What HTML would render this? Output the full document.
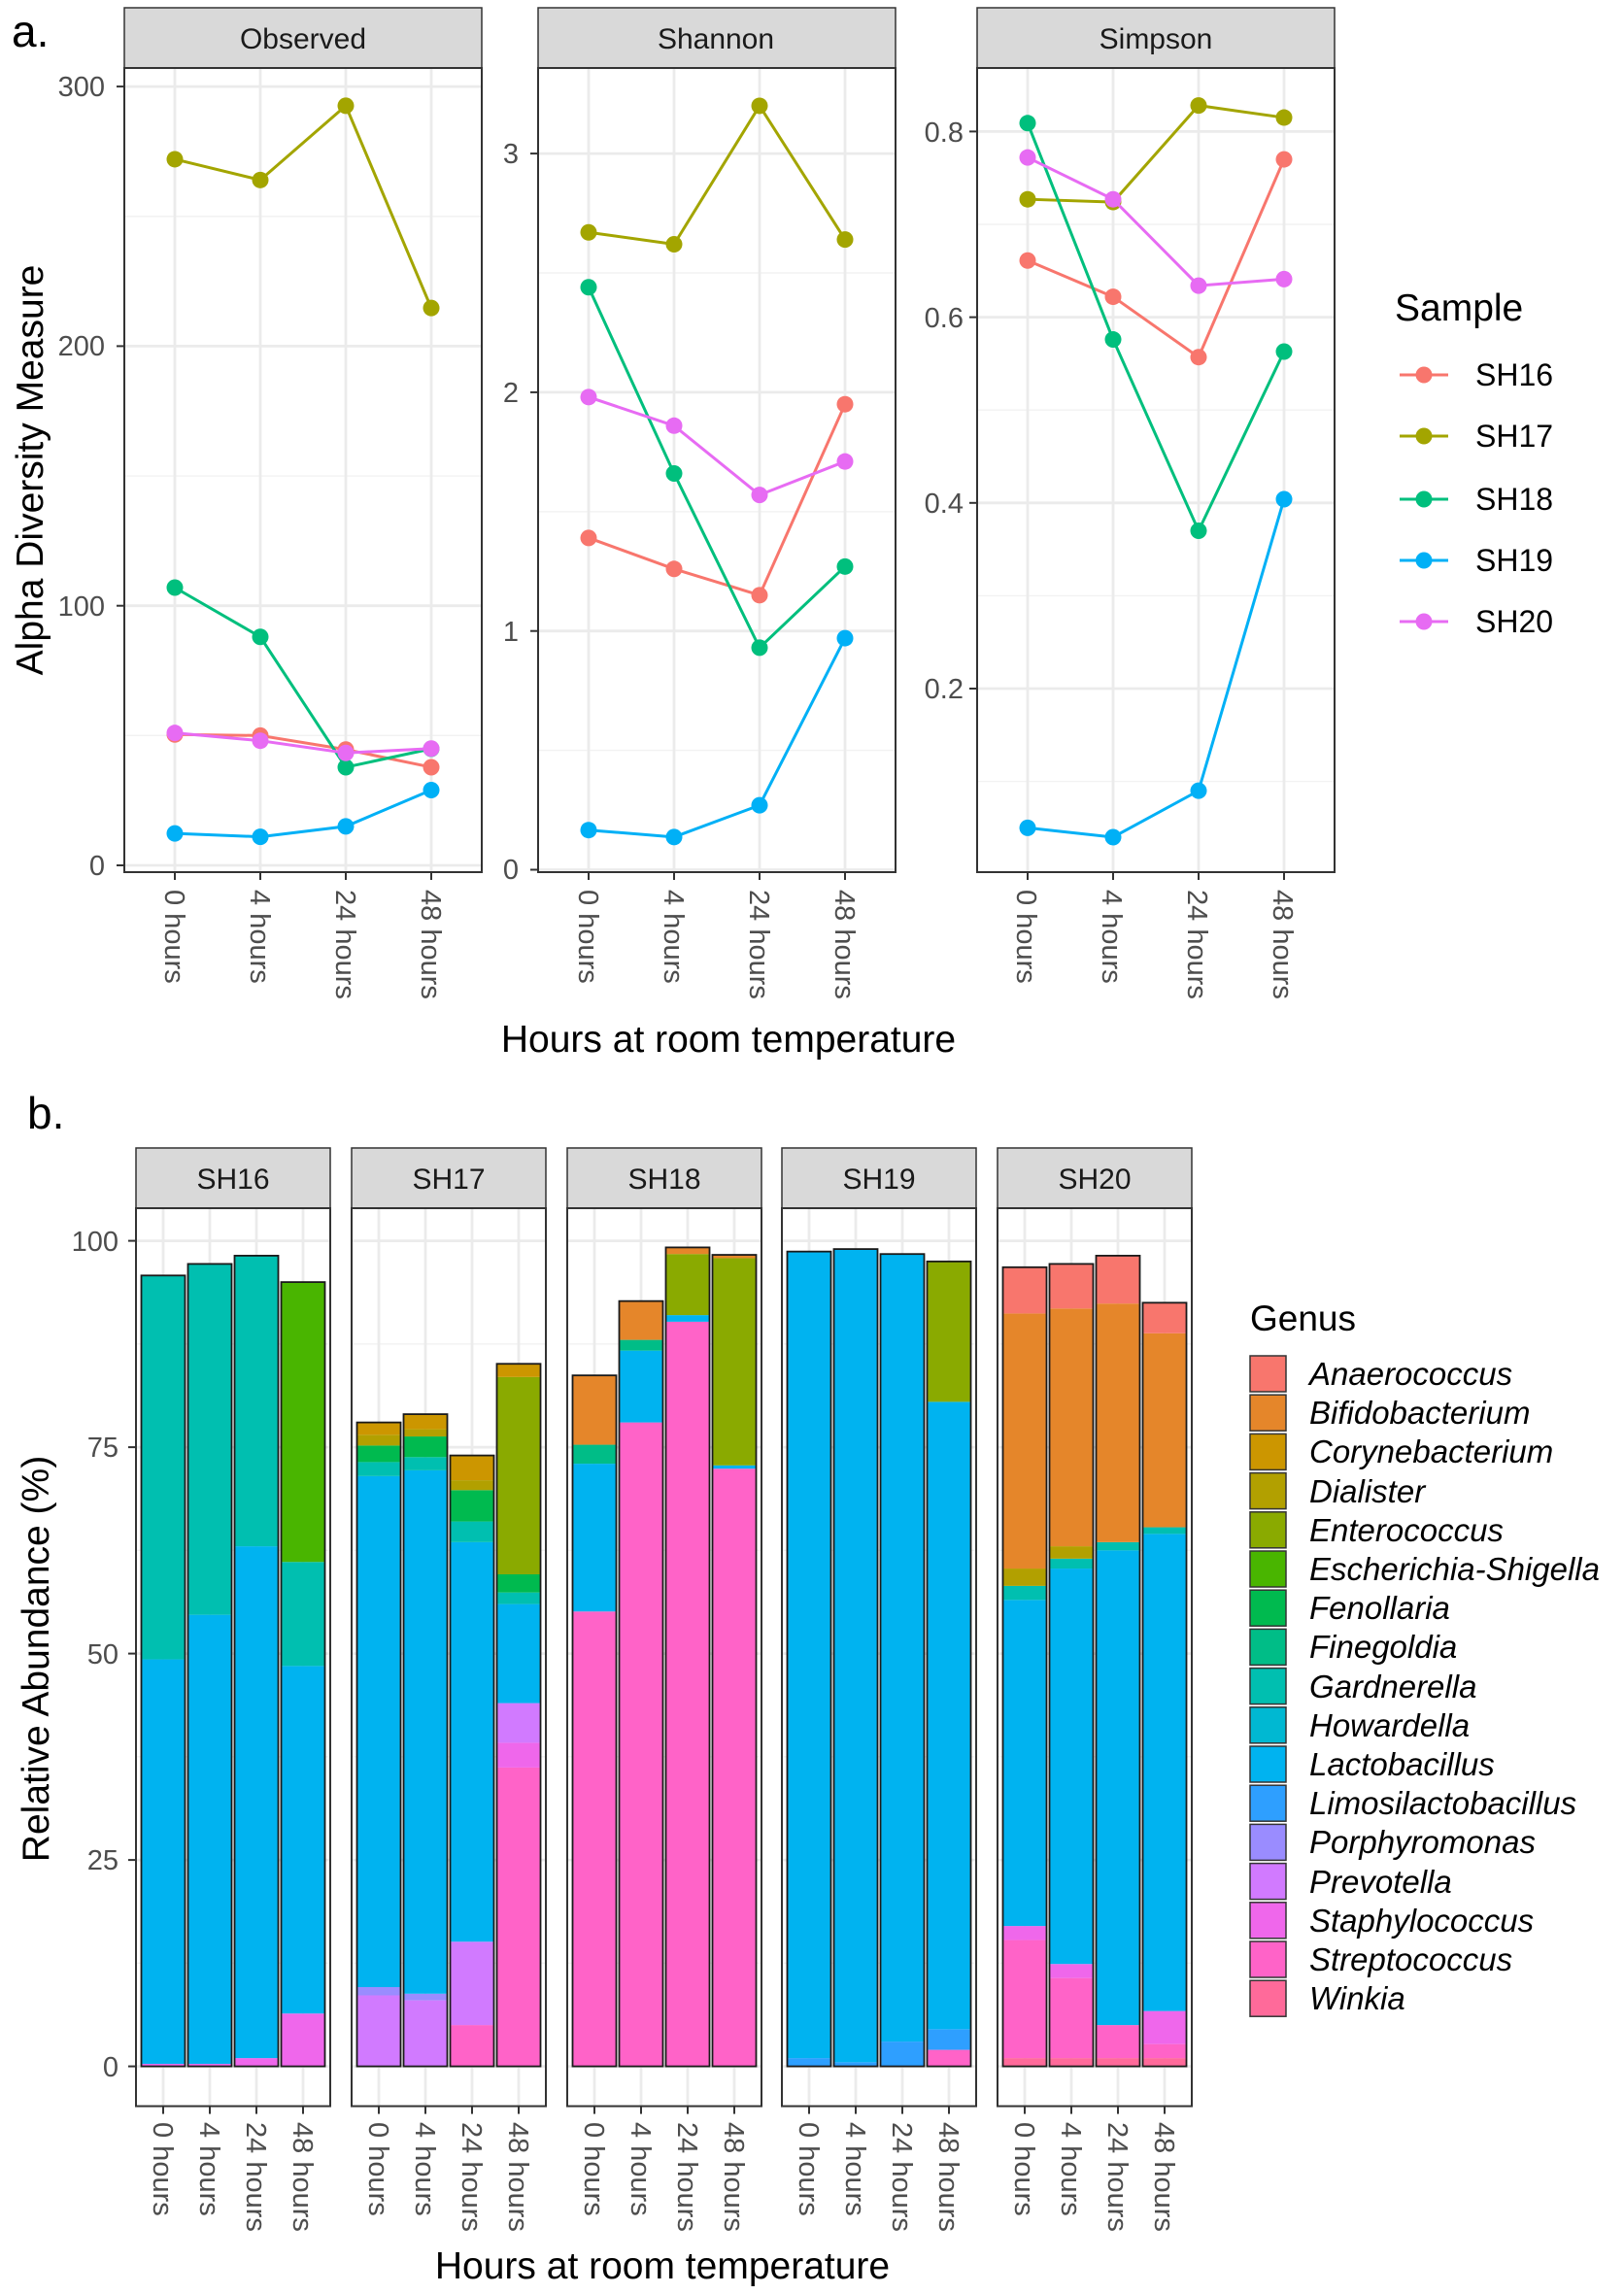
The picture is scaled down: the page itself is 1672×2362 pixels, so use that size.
<!DOCTYPE html>
<html><head><meta charset="utf-8">
<style>
html,body{margin:0;padding:0;background:#fff;}
svg{display:block;font-family:"Liberation Sans",sans-serif;}
.tk{font-size:29px;fill:#4D4D4D;}
.st{font-size:30px;fill:#1A1A1A;}
.ti{font-size:39px;fill:#000;}
.lg{font-size:32px;fill:#000;}
.gn{font-size:33px;fill:#000;font-style:italic;}
</style></head><body>
<svg id="s" width="1672" height="2362" viewBox="0 0 1672 2362" xmlns="http://www.w3.org/2000/svg">
<g id="grid"></g>
<g id="data"></g>
<!-- Panel a text -->
<text x="12" y="48" font-size="46" fill="#000">a.</text>
<text x="312" y="50" class="st" text-anchor="middle">Observed</text>
<text x="737" y="50" class="st" text-anchor="middle">Shannon</text>
<text x="1190" y="50" class="st" text-anchor="middle">Simpson</text>
<g class="tk" text-anchor="end">
<text x="108" y="99">300</text><text x="108" y="366">200</text><text x="108" y="634">100</text><text x="108" y="901">0</text>
<text x="534" y="168">3</text><text x="534" y="414">2</text><text x="534" y="660">1</text><text x="534" y="905">0</text>
<text x="992" y="146">0.8</text><text x="992" y="337">0.6</text><text x="992" y="528">0.4</text><text x="992" y="719">0.2</text>
</g>
<g class="tk">
<text transform="translate(180,916) rotate(90)" dy="10">0 hours</text>
<text transform="translate(268,916) rotate(90)" dy="10">4 hours</text>
<text transform="translate(356,916) rotate(90)" dy="10">24 hours</text>
<text transform="translate(444,916) rotate(90)" dy="10">48 hours</text>
<text transform="translate(606,916) rotate(90)" dy="10">0 hours</text>
<text transform="translate(694,916) rotate(90)" dy="10">4 hours</text>
<text transform="translate(782,916) rotate(90)" dy="10">24 hours</text>
<text transform="translate(870,916) rotate(90)" dy="10">48 hours</text>
<text transform="translate(1057,916) rotate(90)" dy="10">0 hours</text>
<text transform="translate(1145,916) rotate(90)" dy="10">4 hours</text>
<text transform="translate(1233,916) rotate(90)" dy="10">24 hours</text>
<text transform="translate(1321,916) rotate(90)" dy="10">48 hours</text>
</g>
<text class="ti" transform="translate(44,484) rotate(-90)" text-anchor="middle">Alpha Diversity Measure</text>
<text class="ti" x="750" y="1083" text-anchor="middle">Hours at room temperature</text>
<text x="1436" y="330" font-size="39" fill="#000">Sample</text>
<g class="lg">
<text x="1519" y="397">SH16</text><text x="1519" y="460">SH17</text><text x="1519" y="525">SH18</text><text x="1519" y="588">SH19</text><text x="1519" y="651">SH20</text>
</g>
<!-- Panel b text -->
<text x="28" y="1162" font-size="46" fill="#000">b.</text>
<text x="240" y="1224" class="st" text-anchor="middle">SH16</text>
<text x="462" y="1224" class="st" text-anchor="middle">SH17</text>
<text x="684" y="1224" class="st" text-anchor="middle">SH18</text>
<text x="905" y="1224" class="st" text-anchor="middle">SH19</text>
<text x="1127" y="1224" class="st" text-anchor="middle">SH20</text>
<g class="tk" text-anchor="end">
<text x="122" y="1288">100</text><text x="122" y="1500">75</text><text x="122" y="1713">50</text><text x="122" y="1925">25</text><text x="122" y="2138">0</text>
</g>
<g class="tk" id="btk">
<text transform="translate(168,2185) rotate(90)" dy="10">0 hours</text>
<text transform="translate(216,2185) rotate(90)" dy="10">4 hours</text>
<text transform="translate(264,2185) rotate(90)" dy="10">24 hours</text>
<text transform="translate(312,2185) rotate(90)" dy="10">48 hours</text>
<text transform="translate(390,2185) rotate(90)" dy="10">0 hours</text>
<text transform="translate(438,2185) rotate(90)" dy="10">4 hours</text>
<text transform="translate(486,2185) rotate(90)" dy="10">24 hours</text>
<text transform="translate(534,2185) rotate(90)" dy="10">48 hours</text>
<text transform="translate(612,2185) rotate(90)" dy="10">0 hours</text>
<text transform="translate(660,2185) rotate(90)" dy="10">4 hours</text>
<text transform="translate(708,2185) rotate(90)" dy="10">24 hours</text>
<text transform="translate(756,2185) rotate(90)" dy="10">48 hours</text>
<text transform="translate(833,2185) rotate(90)" dy="10">0 hours</text>
<text transform="translate(881,2185) rotate(90)" dy="10">4 hours</text>
<text transform="translate(929,2185) rotate(90)" dy="10">24 hours</text>
<text transform="translate(977,2185) rotate(90)" dy="10">48 hours</text>
<text transform="translate(1055,2185) rotate(90)" dy="10">0 hours</text>
<text transform="translate(1103,2185) rotate(90)" dy="10">4 hours</text>
<text transform="translate(1151,2185) rotate(90)" dy="10">24 hours</text>
<text transform="translate(1199,2185) rotate(90)" dy="10">48 hours</text>
</g>
<text class="ti" transform="translate(50,1708) rotate(-90)" text-anchor="middle">Relative Abundance (%)</text>
<text class="ti" x="682" y="2346" text-anchor="middle">Hours at room temperature</text>
<text x="1287" y="1370" font-size="37" fill="#000">Genus</text>
<g class="gn">
<text x="1348" y="1426">Anaerococcus</text>
<text x="1348" y="1466">Bifidobacterium</text>
<text x="1348" y="1506">Corynebacterium</text>
<text x="1348" y="1547">Dialister</text>
<text x="1348" y="1587">Enterococcus</text>
<text x="1348" y="1627">Escherichia-Shigella</text>
<text x="1348" y="1667">Fenollaria</text>
<text x="1348" y="1707">Finegoldia</text>
<text x="1348" y="1748">Gardnerella</text>
<text x="1348" y="1788">Howardella</text>
<text x="1348" y="1828">Lactobacillus</text>
<text x="1348" y="1868">Limosilactobacillus</text>
<text x="1348" y="1908">Porphyromonas</text>
<text x="1348" y="1949">Prevotella</text>
<text x="1348" y="1989">Staphylococcus</text>
<text x="1348" y="2029">Streptococcus</text>
<text x="1348" y="2069">Winkia</text>
</g>
</svg>
<script>
(function(){
var NS="http://www.w3.org/2000/svg";
var G=document.getElementById('grid'),D=document.getElementById('data');
function el(p,t,a){var e=document.createElementNS(NS,t);for(var k in a)e.setAttribute(k,a[k]);p.appendChild(e);return e;}
// ---------- Panel a ----------
var SC={SH16:'#F8766D',SH17:'#A3A500',SH18:'#00BF7D',SH19:'#00B0F6',SH20:'#E76BF3'};
var panels=[
 {x:128,y0:891,k:2.673,maj:[0,100,200,300],min:[50,150,250],data:{
  SH17:[272,264,292.6,214.7],SH18:[107,88,37.8,44.9],SH16:[50.4,50,44.6,37.8],SH20:[51,48,43.3,45],SH19:[12.3,11,15,29]}},
 {x:554,y0:895.5,k:245.8,maj:[0,1,2,3],min:[0.5,1.5,2.5],data:{
  SH17:[2.67,2.62,3.2,2.64],SH18:[2.44,1.66,0.93,1.27],SH20:[1.98,1.86,1.57,1.71],SH16:[1.39,1.26,1.15,1.95],SH19:[0.166,0.137,0.27,0.97]}},
 {x:1006,y0:135.4+0.8*956,k:956,maj:[0.2,0.4,0.6,0.8],min:[0.1,0.3,0.5,0.7],data:{
  SH17:[.727,.724,.828,.815],SH18:[.809,.576,.370,.563],SH20:[.772,.727,.634,.641],SH16:[.661,.622,.557,.770],SH19:[.050,.040,.090,.404]}}
];
panels.forEach(function(p){
 var L=p.x,R=p.x+368,T=70,B=898;
 el(G,'rect',{x:L,y:8,width:368,height:62,fill:'#D9D9D9',stroke:'#333',"stroke-width":1.5});
 el(G,'rect',{x:L,y:T,width:368,height:B-T,fill:'#fff'});
 p.min.forEach(function(v){var y=p.y0-v*p.k;el(G,'line',{x1:L,x2:R,y1:y,y2:y,stroke:'#F2F2F2',"stroke-width":1.4});});
 p.maj.forEach(function(v){var y=p.y0-v*p.k;el(G,'line',{x1:L,x2:R,y1:y,y2:y,stroke:'#EBEBEB',"stroke-width":2.8});
   el(G,'line',{x1:L-8,x2:L,y1:y,y2:y,stroke:'#333',"stroke-width":2});});
 for(var i=0;i<4;i++){var x=L+52+88*i;el(G,'line',{x1:x,x2:x,y1:T,y2:B,stroke:'#EBEBEB',"stroke-width":2.8});
   el(G,'line',{x1:x,x2:x,y1:B,y2:B+8,stroke:'#333',"stroke-width":2});}
 ['SH16','SH17','SH18','SH19','SH20'].forEach(function(s){
   var pts=p.data[s].map(function(v,i){return [L+52+88*i,p.y0-v*p.k];});
   el(D,'polyline',{points:pts.map(function(q){return q.join(',')}).join(' '),fill:'none',stroke:SC[s],"stroke-width":3});
   pts.forEach(function(q){el(D,'circle',{cx:q[0],cy:q[1],r:8.5,fill:SC[s]});});
 });
 el(D,'rect',{x:L,y:T,width:368,height:B-T,fill:'none',stroke:'#333',"stroke-width":2});
});
// legend a
var ly=[386,449,514,577,640];['SH16','SH17','SH18','SH19','SH20'].forEach(function(s,i){
 el(D,'line',{x1:1441,x2:1491,y1:ly[i],y2:ly[i],stroke:SC[s],"stroke-width":3});
 el(D,'circle',{cx:1466,cy:ly[i],r:8.5,fill:SC[s]});});
// ---------- Panel b ----------
var GC={An:'#F8766D',Bi:'#E5862A',Co:'#CC9600',Di:'#B2A000',En:'#8AAA00',Es:'#49B500',Fe:'#00BA4F',Fi:'#00BD87',Ga:'#00BFB0',Ho:'#00B8D2',La:'#00B3F0',Li:'#2E9FFF',Po:'#9A8CFF',Pr:'#D17AFF',St:'#EF67EB',Sr:'#FF63C8',Wi:'#FF6A9A'};
var order=['An','Bi','Co','Di','En','Es','Fe','Fi','Ga','Ho','La','Li','Po','Pr','St','Sr','Wi'];
order.forEach(function(g,i){el(D,'rect',{x:1287,y:1396+40.2*i,width:37,height:37,fill:GC[g],stroke:'#333',"stroke-width":1.5});});
// each bar: list of [genus, top%] from bottom
var bars=[
 [[['St',0.3],['La',49.3],['Ga',95.8]],[['St',0.3],['La',54.7],['Ga',97.2]],[['St',1],['La',63],['Ga',98.2]],[['St',6.4],['La',48.5],['Ga',61.1],['Es',95]]],
 [[['Pr',8.6],['Po',9.6],['La',71.5],['Ga',73.2],['Fe',75.2],['Di',76.5],['Co',78]],
  [['Pr',8],['Po',8.8],['La',72.2],['Ga',73.8],['Fe',76.3],['Di',77.2],['Co',79]],
  [['Sr',5],['Pr',15.1],['La',63.5],['Ga',66],['Fe',69.8],['Di',71],['Co',74]],
  [['Sr',36.2],['St',39.2],['Pr',44],['La',56],['Ga',57.4],['Fe',59.6],['En',83.5],['Co',85.1]]],
 [[['Sr',55.1],['La',73],['Fi',75.3],['Bi',83.7]],[['Sr',78],['La',86.7],['Fi',88],['Bi',92.7]],[['Sr',90.2],['La',91],['En',98.4],['Bi',99.2]],[['Sr',72.4],['La',72.8],['En',97.9],['Bi',98.3]]],
 [[['Li',1],['La',98.7]],[['Li',0.5],['La',99]],[['Li',3],['La',98.4]],[['Sr',2],['Li',4.5],['La',80.5],['En',97.5]]],
 [[['Wi',1],['Sr',15.3],['St',17],['La',56.5],['Ga',58.2],['Di',60.3],['Bi',91.2],['An',96.8]],
  [['Wi',1],['Sr',10.7],['St',12.4],['La',60.3],['Ga',61.5],['Di',63],['Bi',91.8],['An',97.2]],
  [['Wi',1],['Sr',5],['La',62.5],['Ga',63.5],['Bi',92.4],['An',98.2]],
  [['Wi',1],['Sr',2.7],['St',6.7],['La',64.5],['Ga',65.3],['Bi',88.8],['An',92.5]]]
];
var PL=[140,362,584,805,1027],Y0=2127.6,K=8.5,T=1244,B=2168.6;
PL.forEach(function(L,pi){
 var R=L+200;
 el(G,'rect',{x:L,y:1182,width:200,height:62,fill:'#D9D9D9',stroke:'#333',"stroke-width":1.5});
 [12.5,37.5,62.5,87.5].forEach(function(v){var y=Y0-v*K;el(G,'line',{x1:L,x2:R,y1:y,y2:y,stroke:'#F2F2F2',"stroke-width":1.4});});
 [0,25,50,75,100].forEach(function(v){var y=Y0-v*K;el(G,'line',{x1:L,x2:R,y1:y,y2:y,stroke:'#EBEBEB',"stroke-width":2.8});
   if(pi==0)el(G,'line',{x1:L-8,x2:L,y1:y,y2:y,stroke:'#333',"stroke-width":2});});
 for(var i=0;i<4;i++){var cx=L+28+48*i;
  el(G,'line',{x1:cx,x2:cx,y1:T,y2:B,stroke:'#EBEBEB',"stroke-width":2.8});
  el(G,'line',{x1:cx,x2:cx,y1:B,y2:B+8,stroke:'#333',"stroke-width":2});
  var segs=bars[pi][i],lo=0,x=cx-22.5;
  segs.forEach(function(s){var hi=s[1];el(D,'rect',{x:x,y:Y0-hi*K,width:45,height:(hi-lo)*K,fill:GC[s[0]]});lo=hi;});
  el(D,'rect',{x:x,y:Y0-lo*K,width:45,height:lo*K,fill:'none',stroke:'#1a1a1a',"stroke-width":1.8});
 }
 el(D,'rect',{x:L,y:T,width:200,height:B-T,fill:'none',stroke:'#333',"stroke-width":2});
});
})();
</script>
</body></html>
